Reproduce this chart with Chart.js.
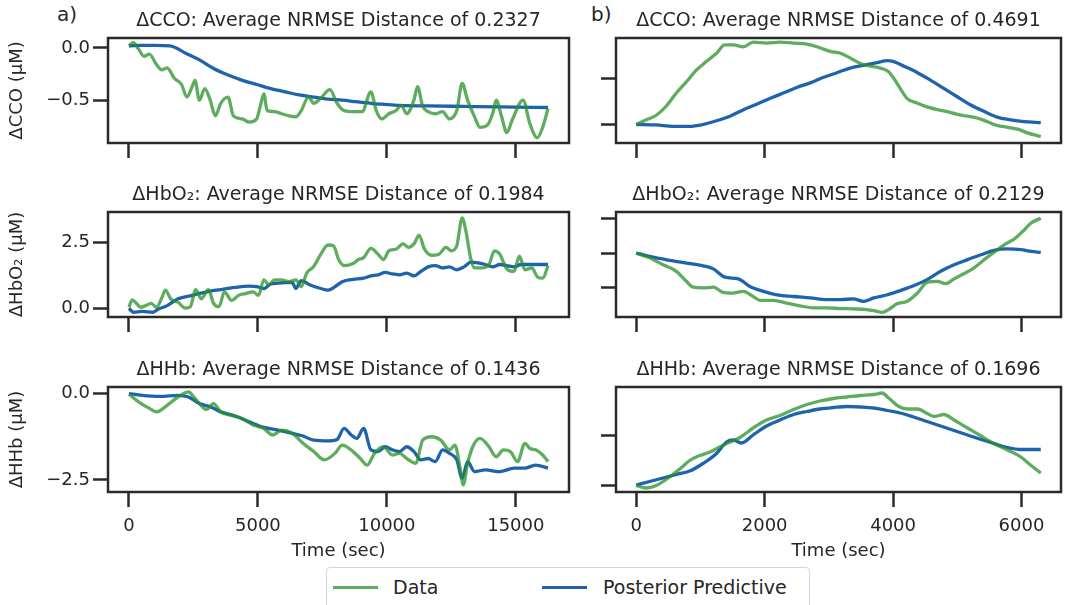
<!DOCTYPE html>
<html>
<head>
<meta charset="utf-8">
<script src="https://cdn.jsdelivr.net/npm/chart.js@4.4.1/dist/chart.umd.min.js"></script>
<style>
  body { margin: 0; background: #fff; width: 1082px; height: 605px; overflow: hidden; position: relative;
         font-family: 'DejaVu Sans', sans-serif; color: #262626; }
  canvas.panel { position: absolute; }
  .tag { position: absolute; font-size: 20px; line-height: 24px; }
  #legend { position: absolute; left: 326px; top: 567px; width: 484px; height: 44px; box-sizing: border-box;
            border: 1.5px solid #d4d4d4; border-radius: 4px; background: #fff; }
  #legend .sw { position: absolute; top: 18px; width: 45px; height: 3px; }
  #legend .lb { position: absolute; top: 7px; font-size: 19px; line-height: 24px; }
</style>
</head>
<body>
<div class="tag" style="left:57px; top:2px">a)</div>
<div class="tag" style="left:591px; top:2px">b)</div>

<div id="legend">
  <span class="sw" style="left:6px; background:rgba(40,145,40,0.75)"></span>
  <span class="lb" style="left:66px">Data</span>
  <span class="sw" style="left:215px; background:#1f63ad"></span>
  <span class="lb" style="left:276px">Posterior Predictive</span>
</div>

<script>
// ---- data: [time (sec), value (uM)] ----
const ccoDataA = [[0,0.02],[170,0.05],[370,-0.01],[580,-0.08],[790,-0.06],[1070,-0.16],[1275,-0.21],[1480,-0.19],[1760,-0.29],[2040,-0.35],[2245,-0.47],[2450,-0.37],[2560,-0.31],[2730,-0.5],[2940,-0.39],[3150,-0.5],[3350,-0.65],[3560,-0.53],[3840,-0.47],[4050,-0.65],[4390,-0.68],[4670,-0.71],[4950,-0.68],[5090,-0.56],[5230,-0.44],[5360,-0.6],[5640,-0.61],[5920,-0.63],[6200,-0.65],[6470,-0.66],[6680,-0.6],[6960,-0.47],[7170,-0.53],[7440,-0.48],[7790,-0.4],[8070,-0.53],[8340,-0.6],[8690,-0.61],[9040,-0.61],[9380,-0.42],[9590,-0.6],[9800,-0.68],[10080,-0.63],[10350,-0.6],[10560,-0.55],[10770,-0.63],[11050,-0.5],[11190,-0.37],[11390,-0.56],[11600,-0.61],[11880,-0.63],[12160,-0.61],[12430,-0.68],[12710,-0.6],[12920,-0.34],[13130,-0.5],[13400,-0.66],[13610,-0.76],[13890,-0.74],[14100,-0.63],[14240,-0.5],[14450,-0.66],[14650,-0.81],[14860,-0.69],[15280,-0.5],[15550,-0.73],[15830,-0.86],[16040,-0.76],[16250,-0.58]];
const ccoPostA = [[0,0.02],[500,0.025],[1000,0.025],[1600,0.02],[2200,-0.05],[2700,-0.11],[3300,-0.2],[3840,-0.26],[4400,-0.31],[4950,-0.35],[5500,-0.39],[6060,-0.42],[6600,-0.45],[7170,-0.47],[7700,-0.49],[8270,-0.5],[8800,-0.515],[9380,-0.53],[9900,-0.54],[10490,-0.55],[11600,-0.555],[13000,-0.56],[14400,-0.565],[16250,-0.57]];

const hbo2DataA = [[0,0.04],[125,0.32],[305,0.17],[445,0.04],[650,0.1],[860,0.19],[1070,0.04],[1275,0.4],[1415,0.69],[1620,0.36],[1900,0.23],[2180,0.01],[2380,0.06],[2590,0.71],[2800,0.36],[3080,0.71],[3280,0.19],[3490,0.06],[3700,0.62],[3980,0.3],[4250,0.49],[4530,0.56],[4810,0.62],[5020,0.49],[5230,1.08],[5430,0.88],[5640,1.08],[5920,1.08],[6200,1.01],[6470,1.08],[6680,0.82],[6890,1.33],[7170,1.59],[7440,2.05],[7720,2.4],[7930,2.37],[8130,1.85],[8340,1.62],[8690,1.7],[8900,1.85],[9100,1.92],[9380,2.27],[9660,2.05],[9870,1.85],[10080,2.18],[10350,2.24],[10630,2.44],[10840,2.31],[11050,2.44],[11250,2.76],[11460,2.24],[11740,2.01],[12020,2.05],[12290,2.31],[12500,2.18],[12710,2.37],[12920,3.43],[13060,2.95],[13260,1.85],[13400,1.53],[13680,1.53],[13960,1.66],[14170,2.18],[14380,2.05],[14650,1.49],[14930,1.4],[15140,1.98],[15350,1.46],[15620,1.53],[15830,1.2],[16040,1.14],[16250,1.62]];
const hbo2PostA = [[0,0],[170,-0.15],[510,-0.12],[930,-0.15],[1140,-0.03],[1480,0.1],[1900,0.36],[2450,0.49],[3010,0.62],[3560,0.71],[4120,0.79],[4670,0.84],[4950,0.82],[5230,0.75],[5500,0.92],[6060,0.97],[6330,0.98],[6470,0.75],[6680,1.05],[7030,0.88],[7440,0.75],[7720,0.69],[7990,0.82],[8270,1.01],[8690,1.1],[9100,1.14],[9380,1.23],[9660,1.27],[9940,1.36],[10210,1.3],[10490,1.27],[10770,1.33],[11050,1.23],[11320,1.4],[11600,1.57],[11880,1.62],[12160,1.53],[12430,1.57],[12710,1.46],[12990,1.57],[13260,1.75],[13540,1.72],[13820,1.66],[14100,1.57],[14380,1.66],[14650,1.62],[14930,1.57],[15210,1.66],[15490,1.66],[15770,1.66],[16250,1.66]];

const hhbDataA = [[0,-0.02],[370,-0.24],[790,-0.43],[1070,-0.53],[1480,-0.34],[1900,-0.1],[2310,0.05],[2520,-0.1],[2730,-0.29],[3010,-0.46],[3280,-0.29],[3560,-0.53],[3980,-0.63],[4390,-0.72],[4810,-0.91],[5230,-1.01],[5570,-1.2],[5920,-1.06],[6330,-1.15],[6750,-1.44],[7170,-1.68],[7580,-1.92],[7990,-1.73],[8270,-1.49],[8690,-1.68],[8970,-1.88],[9240,-2.07],[9520,-1.73],[9870,-1.54],[10210,-1.78],[10490,-1.73],[10770,-1.88],[11120,-2.02],[11390,-1.35],[11740,-1.25],[12090,-1.35],[12430,-1.63],[12640,-1.49],[12850,-2.21],[12960,-2.64],[13130,-2.02],[13330,-1.54],[13610,-1.3],[13960,-1.54],[14240,-1.83],[14520,-1.63],[14790,-1.68],[15070,-1.97],[15350,-1.44],[15550,-1.59],[15770,-1.63],[16040,-1.78],[16250,-1.97]];
const hhbPostA = [[0,0],[510,-0.05],[1210,-0.08],[1900,-0.05],[2310,-0.1],[2730,-0.29],[3150,-0.38],[3560,-0.53],[4120,-0.65],[4670,-0.82],[5230,-0.98],[5780,-1.06],[6330,-1.15],[6750,-1.23],[7170,-1.35],[7720,-1.37],[8070,-1.33],[8340,-1.01],[8620,-1.2],[8830,-1.3],[9100,-1.01],[9380,-1.63],[9660,-1.68],[9940,-1.54],[10210,-1.63],[10490,-1.68],[10770,-1.54],[11050,-1.68],[11320,-1.92],[11600,-1.88],[11880,-1.97],[12160,-1.63],[12430,-1.73],[12710,-1.92],[12920,-2.45],[13130,-1.97],[13400,-2.26],[13820,-2.21],[14380,-2.26],[14930,-2.16],[15350,-2.16],[15770,-2.07],[16250,-2.16]];

const ccoDataB = [[0,0],[156,0.05],[312,0.1],[470,0.2],[625,0.34],[780,0.46],[940,0.59],[1090,0.68],[1250,0.77],[1380,0.86],[1510,0.86],[1670,0.84],[1820,0.89],[2030,0.88],[2240,0.89],[2450,0.88],[2660,0.87],[2860,0.83],[3020,0.79],[3180,0.77],[3330,0.72],[3490,0.66],[3650,0.63],[3800,0.61],[3930,0.57],[4010,0.5],[4110,0.39],[4220,0.28],[4380,0.23],[4530,0.19],[4690,0.16],[4840,0.14],[5000,0.11],[5160,0.09],[5310,0.07],[5470,0.03],[5620,-0.01],[5780,-0.03],[5940,-0.05],[6090,-0.09],[6300,-0.13]];
const ccoPostB = [[0,0],[312,-0.005],[573,-0.02],[833,-0.02],[1040,0],[1250,0.04],[1460,0.09],[1670,0.16],[1875,0.22],[2080,0.28],[2290,0.34],[2500,0.4],[2710,0.45],[2920,0.51],[3125,0.56],[3330,0.61],[3540,0.64],[3750,0.67],[3910,0.69],[4010,0.68],[4170,0.63],[4380,0.56],[4580,0.48],[4790,0.39],[5000,0.3],[5210,0.21],[5420,0.14],[5620,0.08],[5830,0.05],[6040,0.03],[6300,0.02]];

const hbo2DataB = [[0,0],[208,-0.14],[417,-0.34],[625,-0.53],[780,-0.82],[885,-0.99],[1040,-1.01],[1200,-0.99],[1350,-1.14],[1510,-1.16],[1670,-1.11],[1820,-1.26],[1930,-1.37],[2135,-1.37],[2340,-1.45],[2550,-1.53],[2760,-1.59],[2970,-1.59],[3180,-1.61],[3380,-1.62],[3590,-1.64],[3700,-1.67],[3830,-1.72],[3930,-1.64],[4060,-1.47],[4220,-1.4],[4380,-1.16],[4530,-0.85],[4690,-0.82],[4820,-0.89],[4950,-0.75],[5100,-0.6],[5260,-0.43],[5420,-0.19],[5570,0.02],[5730,0.24],[5890,0.41],[6020,0.63],[6150,0.87],[6300,1.01]];
const hbo2PostB = [[0,0],[260,-0.12],[520,-0.21],[780,-0.29],[1040,-0.37],[1200,-0.46],[1380,-0.7],[1590,-0.75],[1770,-0.97],[1980,-1.11],[2190,-1.21],[2450,-1.26],[2710,-1.3],[2970,-1.35],[3180,-1.35],[3380,-1.33],[3540,-1.4],[3700,-1.3],[3910,-1.21],[4110,-1.09],[4320,-0.95],[4530,-0.77],[4740,-0.53],[4950,-0.34],[5160,-0.19],[5370,-0.05],[5570,0.08],[5780,0.12],[5990,0.1],[6150,0.05],[6300,0.02]];

const hhbDataB = [[0,-0.01],[156,-0.06],[312,-0.01],[520,0.16],[677,0.32],[833,0.49],[990,0.59],[1150,0.66],[1300,0.76],[1460,0.86],[1615,0.95],[1820,1.14],[2030,1.3],[2240,1.39],[2450,1.51],[2660,1.61],[2860,1.68],[3070,1.73],[3280,1.76],[3490,1.79],[3700,1.81],[3830,1.84],[3930,1.74],[4090,1.57],[4220,1.52],[4380,1.52],[4530,1.43],[4640,1.37],[4790,1.41],[4950,1.3],[5160,1.14],[5370,0.98],[5570,0.83],[5780,0.7],[5990,0.56],[6150,0.39],[6300,0.24]];
const hhbPostB = [[0,0],[208,0.07],[417,0.14],[625,0.21],[833,0.28],[1040,0.43],[1250,0.63],[1406,0.86],[1510,0.9],[1640,0.84],[1820,1.0],[2030,1.18],[2240,1.3],[2450,1.41],[2660,1.47],[2860,1.52],[3070,1.55],[3280,1.57],[3490,1.56],[3700,1.54],[3910,1.49],[4110,1.44],[4320,1.36],[4530,1.27],[4740,1.18],[4950,1.09],[5160,1.0],[5370,0.91],[5570,0.83],[5780,0.75],[5990,0.71],[6300,0.71]];

// ---- axis limits and ticks ----
const xRangeA = [-812, 17062];
const xRangeB = [-315, 6615];
const xTicksA = [0, 5000, 10000, 15000];
const xTicksB = [0, 2000, 4000, 6000];
const yRangeCcoA = [-0.91, 0.095];
const yRangeHbo2A = [-0.33, 3.65];
const yRangeHhbA = [-2.85, 0.19];
const yRangeCcoB = [-0.2, 0.935];
const yRangeHbo2B = [-1.855, 1.19];
const yRangeHhbB = [-0.14, 1.96];
const yTicksCcoA = [-0.5, 0];
const yTicksHbo2A = [0, 2.5];
const yTicksHhbA = [-2.5, 0];
const yTicksCcoB = [0, 0.5];
const yTicksHbo2B = [-1, 0, 1];
const yTicksHhbB = [0, 1];

// ---- styling / layout ----
const FONT = "'DejaVu Sans', sans-serif";
const TEXT = '#262626';
const FRAME = '#2a2a2a';
const GREEN = 'rgba(40,145,40,0.75)';
const BLUE = '#1f63ad';

const LEFT = { boxL: 108, boxW: 461, yw: 108, padR: 10 };
const RIGHT = { boxL: 616, boxW: 445, yw: 30, padR: 15 };
const ROW_TOP = [38, 212, 387];
const BOX_H = 105;
const PAD_TOP = 36;

const panels = [
    { col: LEFT,  row: 0, title: 'ΔCCO: Average NRMSE Distance of 0.2327', yLabel: 'ΔCCO (μM)',
      data: ccoDataA, post: ccoPostA, xRange: xRangeA, xTicks: xTicksA, yRange: yRangeCcoA, yTicks: yTicksCcoA },
    { col: RIGHT, row: 0, title: 'ΔCCO: Average NRMSE Distance of 0.4691', yLabel: null,
      data: ccoDataB, post: ccoPostB, xRange: xRangeB, xTicks: xTicksB, yRange: yRangeCcoB, yTicks: yTicksCcoB },
    { col: LEFT,  row: 1, title: 'ΔHbO₂: Average NRMSE Distance of 0.1984', yLabel: 'ΔHbO₂ (μM)',
      data: hbo2DataA, post: hbo2PostA, xRange: xRangeA, xTicks: xTicksA, yRange: yRangeHbo2A, yTicks: yTicksHbo2A },
    { col: RIGHT, row: 1, title: 'ΔHbO₂: Average NRMSE Distance of 0.2129', yLabel: null,
      data: hbo2DataB, post: hbo2PostB, xRange: xRangeB, xTicks: xTicksB, yRange: yRangeHbo2B, yTicks: yTicksHbo2B },
    { col: LEFT,  row: 2, title: 'ΔHHb: Average NRMSE Distance of 0.1436', yLabel: 'ΔHHb (μM)',
      data: hhbDataA, post: hhbPostA, xRange: xRangeA, xTicks: xTicksA, yRange: yRangeHhbA, yTicks: yTicksHhbA },
    { col: RIGHT, row: 2, title: 'ΔHHb: Average NRMSE Distance of 0.1696', yLabel: null,
      data: hhbDataB, post: hhbPostB, xRange: xRangeB, xTicks: xTicksB, yRange: yRangeHhbB, yTicks: yTicksHhbB }
];

// Box around the plot area (matplotlib-style spines)
const framePlugin = {
    id: 'frame',
    afterDatasetsDraw(chart) {
        const { ctx, chartArea: a } = chart;
        ctx.save();
        ctx.strokeStyle = FRAME;
        ctx.lineWidth = 2.5;
        ctx.strokeRect(a.left, a.top, a.right - a.left, a.bottom - a.top);
        ctx.restore();
    }
};

// Title centred over the plot area
const panelTitle = {
    id: 'panelTitle',
    afterDraw(chart, args, opts) {
        const { ctx, chartArea: a } = chart;
        ctx.save();
        ctx.font = '19px ' + FONT;
        ctx.fillStyle = TEXT;
        ctx.textAlign = 'center';
        ctx.textBaseline = 'alphabetic';
        ctx.fillText(opts.text, (a.left + a.right) / 2, a.top - 12);
        ctx.restore();
    }
};

const toXY = arr => arr.map(([x, y]) => ({ x: x, y: y }));
const fmtY = v => (v < 0 ? '\u2212' : '') + Math.abs(v).toFixed(1);

panels.forEach((p, i) => {
    const bottomRow = p.row === 2;
    const xh = bottomRow ? 72 : 20;
    const canvas = document.createElement('canvas');
    canvas.className = 'panel';
    const w = p.col.yw + p.col.boxW + p.col.padR;
    const h = PAD_TOP + BOX_H + xh;
    canvas.width = w;
    canvas.height = h;
    canvas.style.left = (p.col.boxL - p.col.yw) + 'px';
    canvas.style.top = (ROW_TOP[p.row] - PAD_TOP) + 'px';
    canvas.style.width = w + 'px';
    canvas.style.height = h + 'px';
    document.body.appendChild(canvas);

    const tickGrid = {
        drawOnChartArea: false,
        drawTicks: true,
        tickLength: 15,
        tickWidth: 2.5,
        tickColor: FRAME
    };

    new Chart(canvas, {
        type: 'line',
        data: {
            datasets: [
                {
                    label: 'Data',
                    data: toXY(p.data),
                    borderColor: GREEN,
                    borderWidth: 3.3,
                    pointRadius: 0,
                    cubicInterpolationMode: 'monotone',
                    order: 0
                },
                {
                    label: 'Posterior Predictive',
                    data: toXY(p.post),
                    borderColor: BLUE,
                    borderWidth: 3.3,
                    pointRadius: 0,
                    cubicInterpolationMode: 'monotone',
                    order: 1
                }
            ]
        },
        options: {
            responsive: false,
            animation: false,
            events: [],
            layout: { padding: { top: PAD_TOP, right: p.col.padR, left: 0, bottom: 0 } },
            plugins: {
                legend: { display: false },
                tooltip: { enabled: false },
                panelTitle: { text: p.title }
            },
            scales: {
                x: {
                    type: 'linear',
                    min: p.xRange[0],
                    max: p.xRange[1],
                    afterFit: s => { s.height = xh; },
                    afterBuildTicks: s => { s.ticks = p.xTicks.map(v => ({ value: v })); },
                    grid: tickGrid,
                    border: { display: false },
                    ticks: {
                        display: bottomRow,
                        font: { size: 18, family: FONT },
                        color: TEXT,
                        padding: 9,
                        maxRotation: 0,
                        callback: v => String(v)
                    },
                    title: {
                        display: bottomRow,
                        text: 'Time (sec)',
                        font: { size: 18, family: FONT },
                        color: TEXT,
                        padding: { top: 0, bottom: 2 }
                    }
                },
                y: {
                    type: 'linear',
                    min: p.yRange[0],
                    max: p.yRange[1],
                    afterFit: s => { s.width = p.col.yw; },
                    afterBuildTicks: s => { s.ticks = p.yTicks.map(v => ({ value: v })); },
                    grid: tickGrid,
                    border: { display: false },
                    ticks: {
                        display: p.yLabel !== null,
                        font: { size: 18, family: FONT },
                        color: TEXT,
                        padding: 3,
                        callback: v => fmtY(v)
                    },
                    title: {
                        display: p.yLabel !== null,
                        text: p.yLabel || '',
                        font: { size: 18, family: FONT },
                        color: TEXT,
                        padding: { top: 7, bottom: 0 }
                    }
                }
            }
        },
        plugins: [framePlugin, panelTitle]
    });
});
</script>
</body>
</html>
